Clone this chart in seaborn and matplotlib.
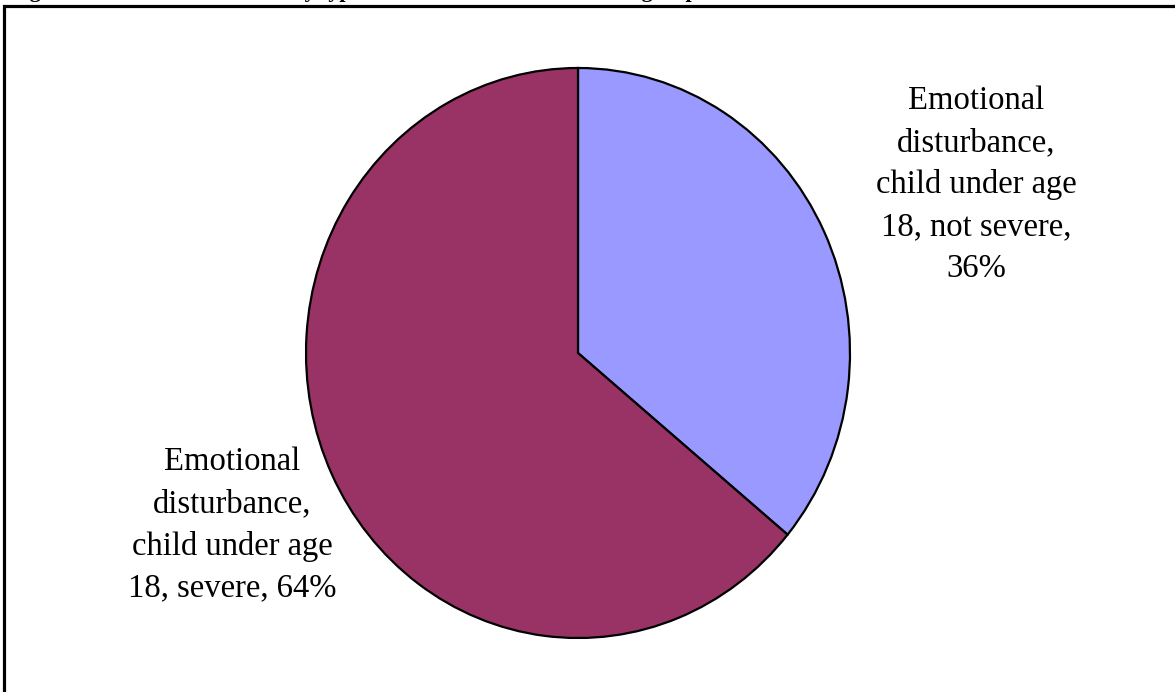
import matplotlib
matplotlib.use("Agg")
import matplotlib.pyplot as plt
from matplotlib.patches import Rectangle
import seaborn as sns

# Share of emotional-disturbance cases among children under 18
categories = [
    "Emotional\ndisturbance,\nchild under age\n18, not severe,",
    "Emotional\ndisturbance,\nchild under age\n18, severe,",
]
shares = [36, 64]
colors = ["#9999FF", "#993366"]
title = "Figure 6: Mental health cases by type for children in this Medicaid group"

sns.set_theme(style="white")
plt.rcParams["font.family"] = ["Liberation Serif", "DejaVu Serif"]

W, H = 1175, 692
fig = plt.figure(figsize=(W / 100, H / 100), dpi=100)
fig.patch.set_facecolor("white")

# Pie area: centre (578, 353) px, radii 272 x 285 px
cx, cy, rx, ry = 578, 353, 272, 285
ax = fig.add_axes([(cx - rx) / W, (H - cy - ry) / H, 2 * rx / W, 2 * ry / H])
ax.pie(
    shares,
    colors=colors,
    startangle=90,
    counterclock=False,
    radius=1,
    wedgeprops=dict(edgecolor="black", linewidth=1.6),
)
ax.set_aspect("auto")
ax.set_xlim(-1, 1)
ax.set_ylim(-1, 1)
ax.axis("off")

# Data labels beside the slices
label_pos = [(1.465, 0.59), (-1.27, -0.604)]
label_text = [
    f"{categories[0]}\n{shares[0]}%",
    f"{categories[1]} {shares[1]}%",
]
for text, (lx, ly) in zip(label_text, label_pos):
    ax.text(lx, ly, text, ha="center", va="center", fontsize=23.5,
            linespacing=1.48, color="black", clip_on=False)

# Outer frame (top and left edges visible)
fig.patches.append(Rectangle((4 / W, -0.05), 1.2, (H - 5.5) / H + 0.05,
                             transform=fig.transFigure, fill=False,
                             edgecolor="black", linewidth=2.3, zorder=5))

# Title, set above the frame
fig.text(10 / W, 1 + 2.5 / H, title, ha="left", va="baseline",
         fontsize=15.8, fontweight="bold", color="black")

fig.savefig("out.png", dpi=100, facecolor="white")
